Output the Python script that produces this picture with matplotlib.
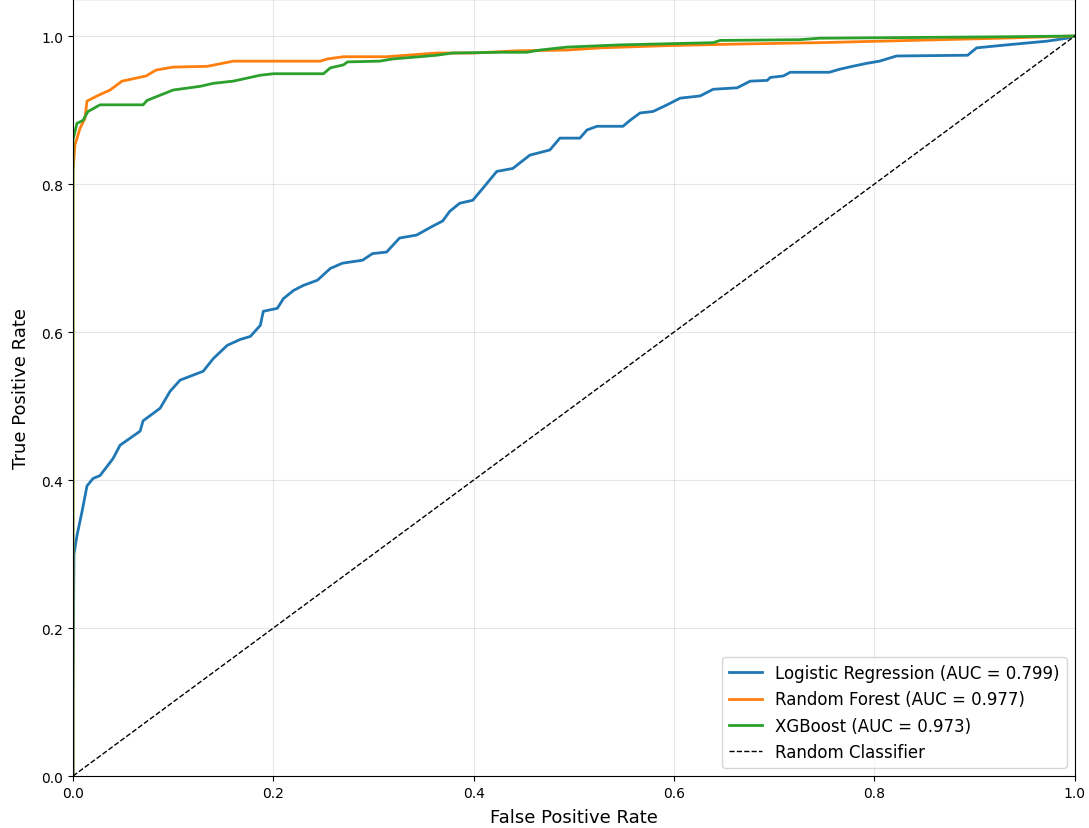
import numpy as np
import matplotlib
matplotlib.use('Agg')
import matplotlib.pyplot as plt

# ROC points (false positive rate, true positive rate)
lr_fpr = [0.0, 0.0, 0.001, 0.004, 0.009, 0.014, 0.02, 0.027, 0.04, 0.047, 0.067, 0.07,
          0.087, 0.097, 0.107, 0.13, 0.14, 0.154, 0.167, 0.177, 0.187, 0.19, 0.204,
          0.21, 0.22, 0.23, 0.244, 0.257, 0.269, 0.289, 0.299, 0.313, 0.326, 0.343,
          0.359, 0.369, 0.376, 0.386, 0.399, 0.409, 0.423, 0.439, 0.456, 0.476, 0.486,
          0.506, 0.513, 0.523, 0.549, 0.556, 0.566, 0.579, 0.593, 0.606, 0.626, 0.639,
          0.663, 0.676, 0.693, 0.696, 0.709, 0.716, 0.755, 0.765, 0.778, 0.792, 0.805,
          0.822, 0.893, 0.902, 0.932, 0.972, 0.992, 1.0]
lr_tpr = [0.0, 0.108, 0.3, 0.325, 0.357, 0.392, 0.402, 0.406, 0.429, 0.447, 0.466, 0.48,
          0.497, 0.52, 0.535, 0.547, 0.564, 0.582, 0.59, 0.594, 0.609, 0.628, 0.632,
          0.645, 0.656, 0.663, 0.67, 0.686, 0.693, 0.697, 0.706, 0.708, 0.727, 0.731,
          0.743, 0.75, 0.763, 0.774, 0.778, 0.794, 0.817, 0.821, 0.839, 0.846, 0.862,
          0.862, 0.873, 0.878, 0.878, 0.886, 0.896, 0.898, 0.907, 0.916, 0.919, 0.928,
          0.93, 0.939, 0.94, 0.944, 0.946, 0.951, 0.951, 0.955, 0.959, 0.963, 0.966,
          0.973, 0.974, 0.984, 0.988, 0.993, 0.997, 1.0]

rf_fpr = [0.0, 0.0, 0.002, 0.007, 0.012, 0.014, 0.024, 0.037, 0.049, 0.073, 0.083, 0.1,
          0.134, 0.16, 0.227, 0.247, 0.254, 0.27, 0.313, 0.333, 0.363, 0.4, 0.443,
          0.493, 0.527, 0.593, 0.659, 0.745, 0.926, 1.0]
rf_tpr = [0.0, 0.817, 0.853, 0.875, 0.889, 0.912, 0.919, 0.927, 0.939, 0.946, 0.954,
          0.958, 0.959, 0.966, 0.966, 0.966, 0.969, 0.972, 0.972, 0.974, 0.977, 0.977,
          0.98, 0.981, 0.984, 0.987, 0.989, 0.991, 0.997, 1.0]

xgb_fpr = [0.0, 0.0, 0.004, 0.01, 0.015, 0.027, 0.07, 0.074, 0.087, 0.1, 0.127, 0.14,
           0.16, 0.187, 0.2, 0.25, 0.257, 0.27, 0.274, 0.306, 0.319, 0.346, 0.363,
           0.379, 0.426, 0.453, 0.466, 0.493, 0.546, 0.639, 0.646, 0.725, 0.745,
           0.932, 1.0]
xgb_tpr = [0.0, 0.86, 0.882, 0.886, 0.898, 0.907, 0.907, 0.913, 0.92, 0.927, 0.932,
           0.936, 0.939, 0.947, 0.949, 0.949, 0.957, 0.961, 0.965, 0.966, 0.969, 0.972,
           0.974, 0.977, 0.978, 0.978, 0.981, 0.985, 0.988, 0.991, 0.994, 0.995,
           0.997, 0.999, 1.0]

models = ['Logistic Regression', 'Random Forest', 'XGBoost']
auc_scores = [0.799, 0.977, 0.973]
colors = ['#1f77b4', '#ff7f0e', '#2ca02c']

fig = plt.figure(figsize=(10.89, 8.29), dpi=100)
ax = fig.add_axes([0.067, 0.0627, 0.92, 0.9373])

curves = [(lr_fpr, lr_tpr), (rf_fpr, rf_tpr), (xgb_fpr, xgb_tpr)]
for (fpr, tpr), name, auc, c in zip(curves, models, auc_scores, colors):
    ax.plot(fpr, tpr, color=c, lw=2, label=f'{name} (AUC = {auc:.3f})')

ax.plot([0, 1], [0, 1], 'k--', lw=1, label='Random Classifier')  # chance line

ax.set_xlim(0, 1)
ax.set_ylim(0, 1.05)
ax.set_xlabel('False Positive Rate', fontsize=13, labelpad=6)
ax.set_ylabel('True Positive Rate', fontsize=13, labelpad=8)
ax.grid(True, alpha=0.3)
ax.legend(loc='lower right', fontsize=12)

fig.savefig('out.png', dpi=100)
